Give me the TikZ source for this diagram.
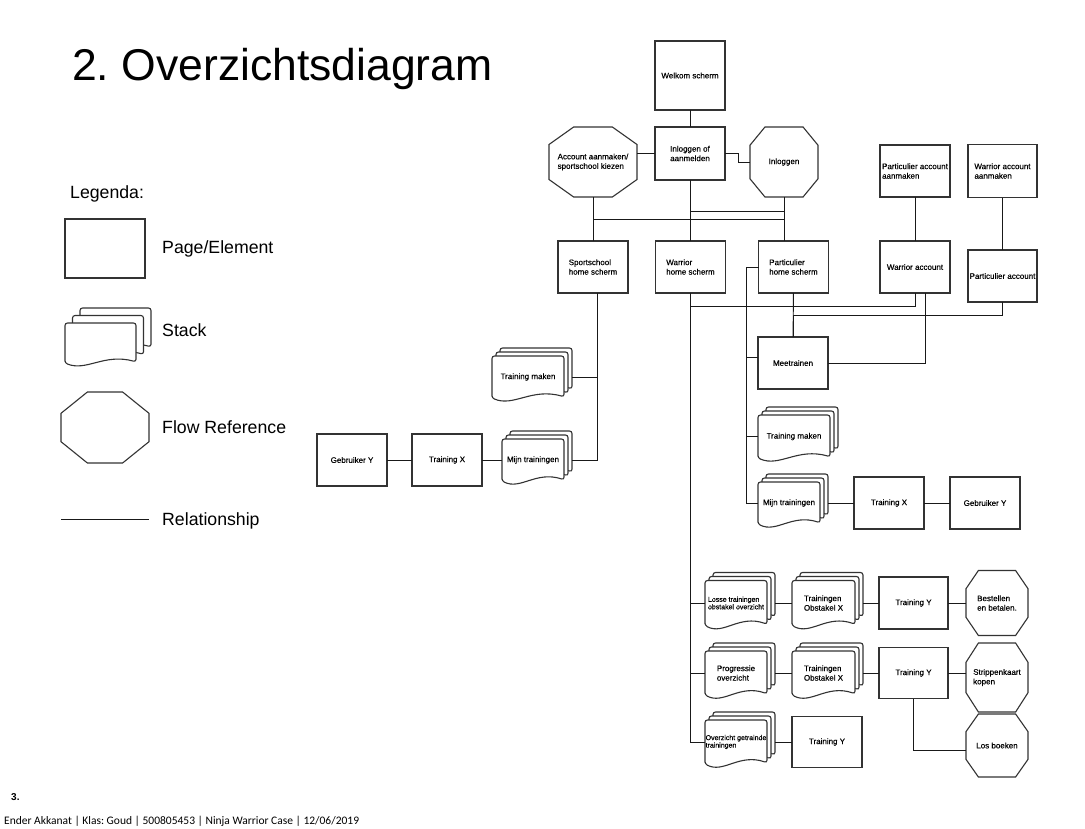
\documentclass[tikz,border=0pt]{standalone}
\usepackage{fontspec}
\setmainfont{Liberation Sans}
\newfontfamily\voetfont{Carlito}
\newfontfamily\knoopfont{Liberation Sans}[FakeBold=0.4]
\usetikzlibrary{calc}

\tikzset{
  lijn/.style={draw=black!90, line width=0.95pt},
  rand/.style={draw=black!80, line width=1.1pt},
  pagina/.style={rand, fill=white, align=left, inner sep=1pt, outer sep=0pt,
    font=\knoopfont\fontsize{8}{9.5}\selectfont},
  achtvlak/.style={align=left, inner sep=1pt, outer sep=0pt,
    font=\knoopfont\fontsize{8}{9.5}\selectfont},
  stapelrand/.style={rand, fill=white, rounded corners=2.5pt},
  stapeltekst/.style={align=left, inner sep=1pt, outer sep=0pt,
    font=\knoopfont\fontsize{8}{9.5}\selectfont},
  legtekst/.style={anchor=base west, inner sep=0pt, font=\fontsize{17.7}{20}\selectfont},
}

% stapel: [opties]{naam}{x}{y}{breedte}{hoogte}{verschuiving}{tekst}
\newcommand{\stapel}[8][]{%
  \foreach \d in {2,1,0}{
    \draw[stapelrand, shift={({#3+\d*#7},{#4-\d*#7})}]
      ({-#5/2},{#6/2}) -- ({-#5/2},{-#6/2}) -- ({#5/2},{-#6/2}) -- ({#5/2},{0.47*#6})
      .. controls ({0.05*#5},{0.25*#6}) and ({-0.2*#5},{0.72*#6}) .. ({-#5/2},{#6/2}) -- cycle;
  }
  \node[stapeltekst, minimum width=#5pt, minimum height=#6pt, #1] (#2) at (#3,#4) {#8};
}

% achthoek rond een knoop: {naam}{fractie x}{fractie y}
\newcommand{\achthoek}[3]{%
  \draw[rand] ($(#1.north west)!#2!(#1.north east)$) -- ($(#1.north east)!#2!(#1.north west)$)
    -- ($(#1.north east)!#3!(#1.south east)$) -- ($(#1.south east)!#3!(#1.north east)$)
    -- ($(#1.south east)!#2!(#1.south west)$) -- ($(#1.south west)!#2!(#1.south east)$)
    -- ($(#1.south west)!#3!(#1.north west)$) -- ($(#1.north west)!#3!(#1.south west)$) -- cycle;
}

\begin{document}
\frenchspacing
\begin{tikzpicture}[x=1pt, y=-1pt]
  \useasboundingbox[fill=white] (0,0) rectangle (1085,828);

  % titel en legenda
  \node[anchor=base west, inner sep=0pt, font=\fontsize{44.5}{50}\selectfont] (titel) at (72,80) {2. Overzichtsdiagram};
  \node[legtekst] (legenda) at (70,198) {Legenda:};
  \node[pagina, minimum width=80pt, minimum height=59pt] (legpagina) at (105,248.5) {};
  \node[legtekst] (legpaginatekst) at (162,253) {Page/Element};
  \stapel{legstapel}{100.5}{343}{71}{40}{7.5}{}
  \node[legtekst] (legstapeltekst) at (162,336.5) {Stack};
  \node[achtvlak, minimum width=88pt, minimum height=71pt] (legacht) at (105,427.5) {};
  \achthoek{legacht}{0.3}{0.3}
  \node[legtekst] (legachttekst) at (162,433) {Flow Reference};
  \coordinate (relA) at (61,519);
  \coordinate (relB) at (149,519);
  \draw[lijn] (relA) -- (relB);
  \node[legtekst] (legreltekst) at (162,525) {Relationship};

  % bovenste deel
  \node[pagina, minimum width=70pt, minimum height=69pt] (welkom) at (690,75.5) {Welkom scherm};
  \node[pagina, minimum width=70pt, minimum height=53pt, align=center] (inlog) at (690,153.5) {Inloggen of\\aanmelden};
  \node[achtvlak, minimum width=88pt, minimum height=70pt] (acc) at (593,162) {Account aanmaken/\\sportschool kiezen};
  \achthoek{acc}{0.28}{0.25}
  \node[achtvlak, minimum width=68pt, minimum height=70pt] (login) at (784,162) {Inloggen};
  \achthoek{login}{0.22}{0.26}
  \node[pagina, minimum width=70pt, minimum height=52pt] (partaan) at (915,171) {Particulier account\\aanmaken};
  \node[pagina, minimum width=69pt, minimum height=53pt] (waraan) at (1002.5,171) {Warrior account\\aanmaken};

  \node[pagina, minimum width=70pt, minimum height=52pt] (sport) at (593,267) {Sportschool\\home scherm};
  \node[pagina, minimum width=70pt, minimum height=52pt] (warhome) at (690.5,267) {Warrior\\home scherm};
  \node[pagina, minimum width=70pt, minimum height=52pt] (parthome) at (793.5,267) {Particulier\\home scherm};
  \node[pagina, minimum width=70pt, minimum height=52pt] (waracc) at (915,267) {Warrior account};
  \node[pagina, minimum width=69pt, minimum height=52pt] (partacc) at (1002.5,276) {Particulier account};

  \coordinate (bus) at (0,219);
  \coordinate (bus2) at (0,211);
  \draw[lijn] (welkom) -- (inlog);
  \draw[lijn] (inlog.west) -- (inlog.west -| acc.east);
  \draw[lijn] (inlog.east) -- ++(13,0) |- (login.west);
  \draw[lijn] (acc.south) -- (sport.north);
  \draw[lijn] (inlog.south) -- (inlog.south |- warhome.north);
  \draw[lijn] (login.south) -- (login.south |- parthome.north);
  \draw[lijn] (acc.south |- bus) -- (login.south |- bus);
  \draw[lijn] (inlog.south |- bus2) -- (login.south |- bus2);
  \draw[lijn] (partaan) -- (waracc);
  \draw[lijn] (waraan) -- (partacc);

  % particulier
  \node[pagina, minimum width=70pt, minimum height=52pt] (meet) at (793,363) {Meetrainen};
  \stapel{trainR}{794}{436.5}{72}{43}{4}{Training maken}
  \stapel{mijnR}{789}{503}{62}{42}{4}{Mijn trainingen}
  \node[pagina, minimum width=70pt, minimum height=52pt] (txR) at (889,503) {Training X};
  \node[pagina, minimum width=70pt, minimum height=52pt] (gyR) at (985,503) {Gebruiker Y};

  \draw[lijn] (waracc.south) -- ++(0,13) -| (warhome.south);
  \draw[lijn] (partacc.south) -- ++(0,13) -| (meet.north);
  \draw[lijn] (parthome) -- (meet);
  \draw[lijn] ([xshift=10pt]waracc.south) |- (meet.east);
  \coordinate (ptak) at (746,267);
  \draw[lijn] (parthome.west) -- (ptak) |- (mijnR.west);
  \draw[lijn] (ptak |- 0,357) -- (meet.west |- 0,357);
  \draw[lijn] (ptak |- trainR.west) -- (trainR.west);
  \draw[lijn] ([xshift=8pt]mijnR.east) -- (txR);
  \draw[lijn] (txR) -- (gyR);

  % sportschool
  \stapel{trainL}{528}{377}{72}{42}{4}{Training maken}
  \stapel{mijnL}{533}{460}{62}{42}{4}{Mijn trainingen}
  \node[pagina, minimum width=70pt, minimum height=52pt] (txL) at (447,460) {Training X};
  \node[pagina, minimum width=70pt, minimum height=52pt] (gyL) at (352,460) {Gebruiker Y};
  \draw[lijn] ([xshift=4pt]sport.south) |- ([xshift=8pt]mijnL.east);
  \draw[lijn] ([xshift=8pt]trainL.east) -| ([xshift=4pt]sport.south);
  \draw[lijn] (mijnL) -- (txL);
  \draw[lijn] (txL) -- (gyL);

  % warrior
  \stapel[font=\knoopfont\fontsize{7}{7.5}\selectfont]{losse}{736}{603}{62}{45}{4}{Losse trainingen\\obstakel overzicht}
  \stapel{tobX1}{823.5}{603}{63}{45}{4}{Trainingen\\Obstakel X}
  \node[pagina, minimum width=69pt, minimum height=52pt] (ty1) at (913.5,603) {Training Y};
  \node[achtvlak, minimum width=62pt, minimum height=65pt] (bestel) at (997,603) {Bestellen\\en betalen.};
  \achthoek{bestel}{0.2}{0.28}

  \stapel{progressie}{736}{673}{62}{44}{4}{Progressie\\overzicht}
  \stapel{tobX2}{823.5}{673}{63}{44}{4}{Trainingen\\Obstakel X}
  \node[pagina, minimum width=69pt, minimum height=51pt] (ty2) at (913.5,673) {Training Y};
  \node[achtvlak, minimum width=62pt, minimum height=69pt] (strippen) at (997,677.5) {Strippenkaart\\kopen};
  \achthoek{strippen}{0.2}{0.28}
  \node[achtvlak, minimum width=62pt, minimum height=63pt] (losboeken) at (997,745.5) {Los boeken};
  \achthoek{losboeken}{0.2}{0.28}

  \stapel[font=\knoopfont\fontsize{7}{7.5}\selectfont]{overzicht}{736}{742}{62}{44}{4}{Overzicht getrainde\\trainingen}
  \node[pagina, minimum width=70pt, minimum height=51pt] (ty3) at (827,742) {Training Y};

  \draw[lijn] (warhome.south) |- (overzicht.west);
  \draw[lijn] (warhome.south |- losse.west) -- (losse.west);
  \draw[lijn] (warhome.south |- progressie.west) -- (progressie.west);
  \draw[lijn] ([xshift=8pt]losse.east) -- (tobX1.west);
  \draw[lijn] ([xshift=8pt]tobX1.east) -- (ty1.west);
  \draw[lijn] (ty1) -- (bestel);
  \draw[lijn] ([xshift=8pt]progressie.east) -- (tobX2.west);
  \draw[lijn] ([xshift=8pt]tobX2.east) -- (ty2.west);
  \draw[lijn] (ty2.east) -- (ty2.east -| strippen.west);
  \draw[lijn] (ty2.south) |- ([yshift=-5pt]losboeken.west);
  \draw[lijn] ([xshift=8pt]overzicht.east) -- (ty3.west);

  % voettekst
  \node[anchor=base west, inner sep=0pt, font=\bfseries\fontsize{10}{12}\selectfont] (paginanr) at (11,800) {3.};
  \node[anchor=base west, inner sep=0pt, font=\voetfont\fontsize{11.5}{13}\selectfont] (voet) at (4,824) {Ender Akkanat | Klas: Goud | 500805453 | Ninja Warrior Case | 12/06/2019};
\end{tikzpicture}
\end{document}
